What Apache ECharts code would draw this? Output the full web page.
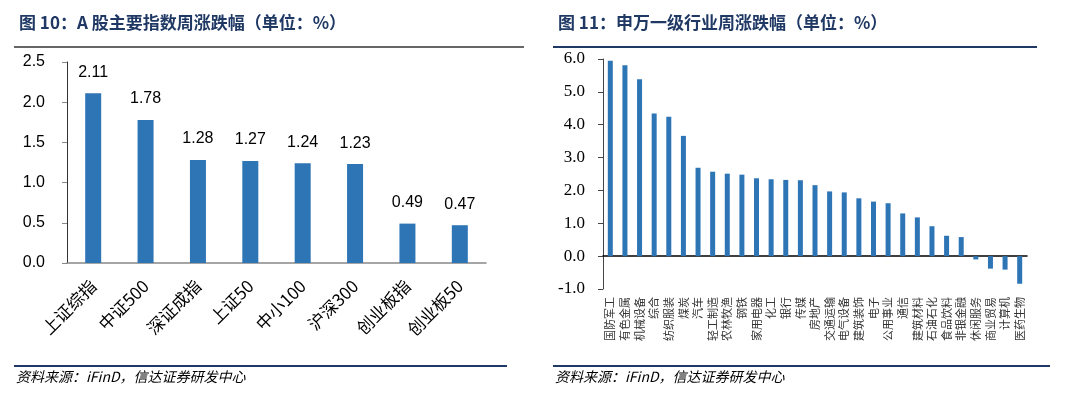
<!DOCTYPE html>
<html>
<head>
<meta charset="utf-8">
<script src="https://cdn.jsdelivr.net/npm/echarts@6/dist/echarts.min.js"></script>
<style>
  html, body { margin: 0; padding: 0; background: #fff; }
  #chart { width: 1080px; height: 396px; }
</style>
</head>
<body>
<div id="chart"></div>
<script>
// 图10：A股主要指数
const indexNames = ["上证综指", "中证500", "深证成指", "上证50", "中小100", "沪深300", "创业板指", "创业板50"];
const indexChange = [2.11, 1.78, 1.28, 1.27, 1.24, 1.23, 0.49, 0.47];

// 图11：申万一级行业
const industryNames = [
  "国防军工", "有色金属", "机械设备", "综合", "纺织服装", "煤炭", "汽车", "轻工制造",
  "农林牧渔", "钢铁", "家用电器", "化工", "银行", "传媒", "房地产", "交通运输",
  "电气设备", "建筑装饰", "电子", "公用事业", "通信", "建筑材料", "石油石化",
  "食品饮料", "非银金融", "休闲服务", "商业贸易", "计算机", "医药生物"
];
const industryChange = [
  5.95, 5.81, 5.38, 4.34, 4.24, 3.66, 2.69, 2.57,
  2.51, 2.48, 2.37, 2.34, 2.32, 2.31, 2.16, 1.97,
  1.94, 1.76, 1.66, 1.61, 1.30, 1.18, 0.91,
  0.62, 0.58, -0.10, -0.38, -0.41, -0.84
];

const barColor = "#2E75B6";
const navy = "#1F3864";
const sourceText = "资料来源：iFinD，信达证券研发中心";

const chart = echarts.init(document.getElementById("chart"));

const option = {
  backgroundColor: "#fff",
  animation: false,
  title: [
    {
      text: "图 10：A 股主要指数周涨跌幅（单位：%）",
      left: 14, top: 9,
      textStyle: { fontFamily: "Noto Sans CJK SC", fontSize: 17, fontWeight: "bold", color: navy }
    },
    {
      text: "图 11：申万一级行业周涨跌幅（单位：%）",
      left: 553, top: 9,
      textStyle: { fontFamily: "Noto Sans CJK SC", fontSize: 17, fontWeight: "bold", color: navy }
    }
  ],
  graphic: [
    { type: "line", shape: { x1: 14, y1: 47, x2: 524, y2: 47 }, style: { stroke: "#666", lineWidth: 2 } },
    { type: "line", shape: { x1: 553, y1: 47, x2: 1037, y2: 47 }, style: { stroke: navy, lineWidth: 2 } },
    { type: "line", shape: { x1: 14, y1: 366, x2: 507, y2: 366 }, style: { stroke: navy, lineWidth: 2 } },
    { type: "line", shape: { x1: 553, y1: 366, x2: 1050, y2: 366 }, style: { stroke: navy, lineWidth: 2 } },
    {
      type: "text", left: 16, top: 370,
      style: { text: sourceText, fontFamily: "Noto Sans CJK SC", fontSize: 14, fontStyle: "italic", fill: "#000" }
    },
    {
      type: "text", left: 555, top: 370,
      style: { text: sourceText, fontFamily: "Noto Sans CJK SC", fontSize: 14, fontStyle: "italic", fill: "#000" }
    }
  ],
  grid: [
    { left: 67, right: 594, top: 62, bottom: 133 },
    { left: 603, right: 53, top: 59, bottom: 107 }
  ],
  xAxis: [
    {
      gridIndex: 0,
      type: "category",
      data: indexNames,
      axisLine: { lineStyle: { color: "#888", width: 1.5 } },
      axisTick: { show: false },
      axisLabel: {
        rotate: 45, margin: 20, interval: 0,
        fontFamily: "Noto Sans CJK SC", fontSize: 17, color: "#000"
      }
    },
    {
      gridIndex: 1,
      type: "category",
      data: industryNames,
      position: "bottom",
      axisLine: { show: false, onZero: false },
      axisTick: { show: false },
      axisLabel: {
        rotate: 90, margin: 8, interval: 0,
        fontFamily: "Noto Sans CJK SC", fontSize: 11, color: "#333"
      }
    },
    {
      gridIndex: 1,
      type: "category",
      data: industryNames,
      position: "top",
      axisLine: { show: true, onZero: true, lineStyle: { color: "#000", width: 1.5 } },
      axisTick: { show: false },
      axisLabel: { show: false }
    }
  ],
  yAxis: [
    {
      gridIndex: 0,
      type: "value",
      min: 0, max: 2.5, interval: 0.5,
      splitLine: { show: false },
      axisLine: { show: true, lineStyle: { color: "#333" } },
      axisTick: { show: true, length: 5, lineStyle: { color: "#888" } },
      axisLabel: {
        margin: 22,
        fontFamily: "Liberation Sans", fontSize: 16, color: "#000",
        formatter: v => v.toFixed(1)
      }
    },
    {
      gridIndex: 1,
      type: "value",
      min: -1, max: 6, interval: 1,
      splitLine: { show: false },
      axisLine: { show: true, lineStyle: { color: "#444" } },
      axisTick: { show: true, length: 5, lineStyle: { color: "#444" } },
      axisLabel: {
        margin: 18,
        fontFamily: "Liberation Serif", fontSize: 17, color: "#000",
        formatter: v => v.toFixed(1)
      }
    }
  ],
  series: [
    {
      type: "bar",
      xAxisIndex: 0, yAxisIndex: 0,
      data: indexChange,
      barWidth: 16,
      itemStyle: { color: barColor },
      label: {
        show: true, position: "top", distance: 13,
        fontFamily: "Liberation Sans", fontSize: 16, color: "#000",
        formatter: p => p.value.toFixed(2)
      }
    },
    {
      type: "bar",
      xAxisIndex: 1, yAxisIndex: 1,
      data: industryChange,
      barWidth: 5,
      itemStyle: { color: barColor }
    }
  ]
};

chart.setOption(option);
</script>
</body>
</html>
